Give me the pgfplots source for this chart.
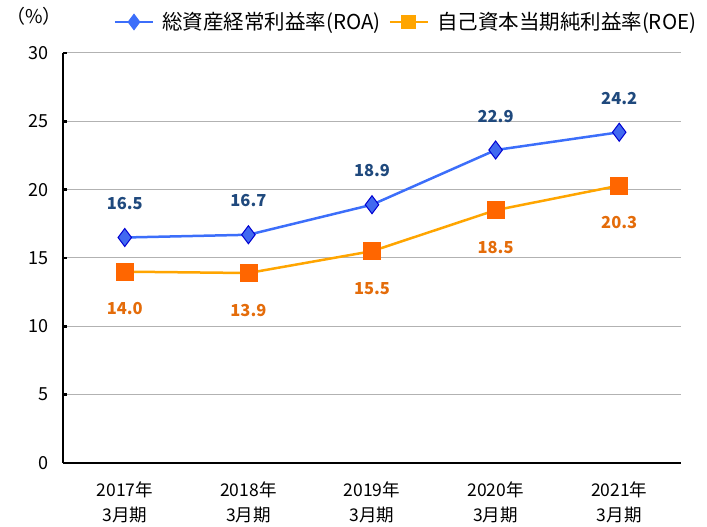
\documentclass[border=0pt]{standalone}
\usepackage{pgfplots}
\pgfplotsset{compat=1.18}
\usepackage{fontspec}
\setmainfont{Noto Sans CJK JP}
\definecolor{roaline}{RGB}{60,110,250}
\definecolor{roafill}{RGB}{65,105,240}
\definecolor{roaedge}{RGB}{0,0,210}
\definecolor{roalab}{RGB}{31,73,125}
\definecolor{roeline}{RGB}{255,165,0}
\definecolor{roefill}{RGB}{255,102,0}
\definecolor{roelab}{RGB}{228,108,10}
\begin{document}
\begin{tikzpicture}[x=1pt,y=1pt]
\begin{axis}[
  scale only axis,
  width=618pt, height=410pt,
  xmin=-0.5, xmax=4.5,
  ymin=0, ymax=30,
  ytick={0,5,...,30},
  xtick={0,1,2,3,4},
  xticklabels={{2017年\\3月期},{2018年\\3月期},{2019年\\3月期},{2020年\\3月期},{2021年\\3月期}},
  xticklabel style={align=center, font=\fontsize{17.5}{25}\selectfont, yshift=-15pt},
  yticklabel style={font=\fontsize{18}{20}\selectfont, xshift=-11pt},
  /pgf/number format/assume math mode=true,
  axis x line*=bottom, axis y line*=left,
  axis line style={line width=2.5pt, -},
  x tick style={draw=none},
  y tick style={line width=2.5pt, black},
  tick align=inside,
  major tick length=4pt,
  extra x ticks={0.5,1.5,2.5,3.5},
  extra x tick labels={},
  extra x tick style={major tick length=4pt, tick style={line width=2pt, black, draw=black}, grid=none},
  ymajorgrids,
  grid style={gray!60, line width=1pt},
  legend style={at={(0.555,1.0756)}, anchor=center, draw=none, fill=none,
    legend columns=2, font=\fontsize{20.5}{22}\selectfont,
    column sep=6pt, inner sep=0pt, outer sep=0pt},
  legend cell align=left,
  legend image code/.code={\draw[mark repeat=2, mark phase=2, mark options={scale=0.72}] plot coordinates {(0pt,0pt) (19pt,0pt) (38pt,0pt)};},
  clip=false,
]
\addplot[color=roaline, line width=2.5pt, mark=diamond*, mark size=9pt,
  mark options={fill=roafill, draw=roaedge, line width=1pt},
  nodes near coords={\pgfmathprintnumber[fixed,fixed zerofill,precision=1]{\pgfplotspointmeta}},
  every node near coord/.append style={font=\bfseries\fontsize{16.5}{18}\selectfont, text=roalab, anchor=center, yshift=34pt}]
  coordinates {(0,16.5) (1,16.7) (2,18.9) (3,22.9) (4,24.2)};
\addlegendentry{総資産経常利益率(ROA)}
\addplot[color=roeline, line width=2.5pt, mark=square*, mark size=8.5pt,
  mark options={fill=roefill, draw=roefill, line width=0.5pt},
  nodes near coords={\pgfmathprintnumber[fixed,fixed zerofill,precision=1]{\pgfplotspointmeta}},
  every node near coord/.append style={font=\bfseries\fontsize{16.5}{18}\selectfont, text=roelab, anchor=center, yshift=-37pt}]
  coordinates {(0,14.0) (1,13.9) (2,15.5) (3,18.5) (4,20.3)};
\addlegendentry{自己資本当期純利益率(ROE)}
\node[font=\fontsize{19}{20}\selectfont] at (axis description cs:-0.047,1.0902) {（\%）};
\coordinate (sw) at (axis description cs:0,0);
\end{axis}
\path (sw) ++(-63pt,-62pt) rectangle ++(707pt,525pt);
\end{tikzpicture}
\end{document}
